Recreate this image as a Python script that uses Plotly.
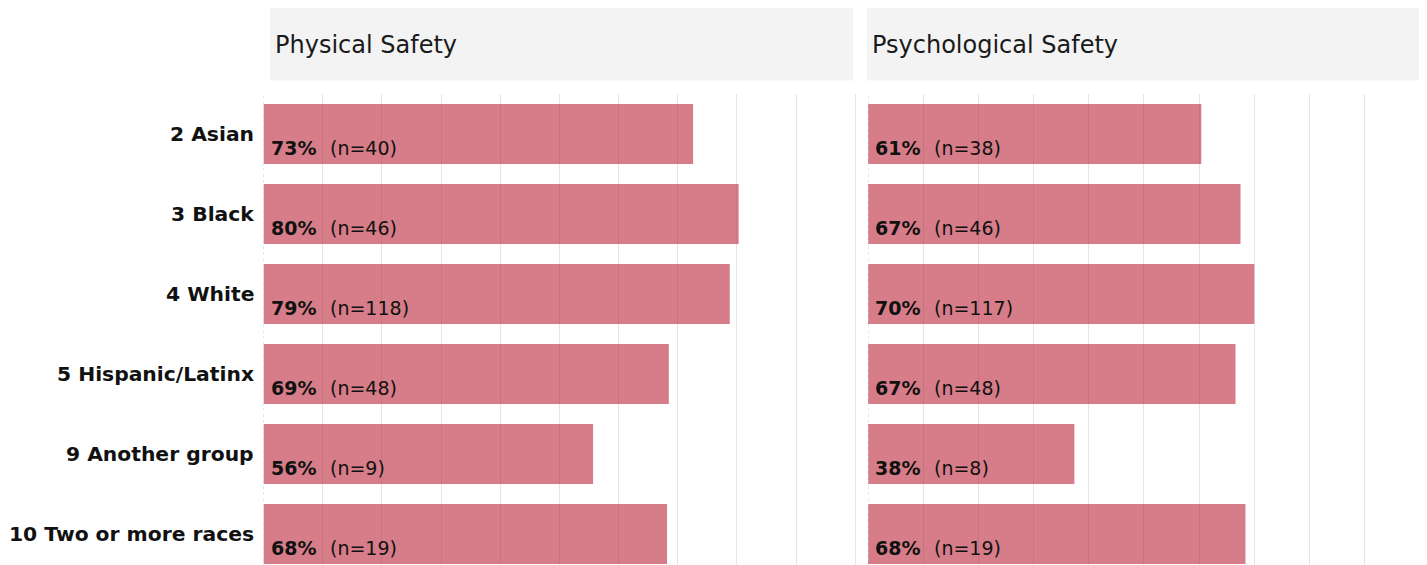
import plotly.graph_objects as go

# ---- data ----
groups = ["2 Asian", "3 Black", "4 White", "5 Hispanic/Latinx",
          "9 Another group", "10 Two or more races"]
panels = ["Physical Safety", "Psychological Safety"]
physical_vals = [0.726, 0.803, 0.788, 0.685, 0.557, 0.682]
physical_pct = ["73%", "80%", "79%", "69%", "56%", "68%"]
physical_n = ["(n=40)", "(n=46)", "(n=118)", "(n=48)", "(n=9)", "(n=19)"]
psych_vals = [0.604, 0.675, 0.700, 0.666, 0.374, 0.684]
psych_pct = ["61%", "67%", "70%", "67%", "38%", "68%"]
psych_n = ["(n=38)", "(n=46)", "(n=117)", "(n=48)", "(n=8)", "(n=19)"]
grid_vals = [0.1, 0.2, 0.3, 0.4, 0.5, 0.6, 0.7, 0.8, 0.9, 1.0]

W, H = 1427, 565
OFF = 8  # page body margin
BAR = "rgba(187,38,58,0.6)"
FONT = "DejaVu Sans"

fig = go.Figure()
fig.add_trace(go.Bar(x=physical_vals, y=groups, orientation="h", width=0.75,
                     marker=dict(color=BAR, line=dict(width=0)),
                     xaxis="x", yaxis="y", showlegend=False, hoverinfo="skip"))
fig.add_trace(go.Bar(x=psych_vals, y=groups, orientation="h", width=0.75,
                     marker=dict(color=BAR, line=dict(width=0)),
                     xaxis="x2", yaxis="y2", showlegend=False, hoverinfo="skip"))

px = lambda v: (v - OFF) / W
py = lambda v: 1 - (v - OFF) / H

ydom = [0, py(94)]
yrange = [-0.5 + (H - (94 - OFF)) / 80.0, -0.5]
xcommon = dict(range=[0, 1.003], tickmode="array", tickvals=grid_vals, showticklabels=False,
               showgrid=True, gridcolor="#e6e6e6", gridwidth=1.3, zeroline=False,
               showline=False, ticks="", fixedrange=True)
ycommon = dict(range=yrange, autorange=False, showticklabels=False, showgrid=False,
               zeroline=False, showline=False, ticks="", type="category", domain=ydom)

fig.update_layout(
    width=W, height=H,
    margin=dict(l=0, r=0, t=0, b=0),
    paper_bgcolor="white", plot_bgcolor="white",
    xaxis=dict(domain=[px(263.5), px(857)], anchor="y", **xcommon),
    xaxis2=dict(domain=[px(868), px(1421.5)], anchor="y2", **xcommon),
    yaxis=dict(anchor="x", **ycommon),
    yaxis2=dict(anchor="x2", **ycommon),
    barmode="overlay",
    font=dict(family=FONT, color="black"),
)

shapes = []
annotations = []
# header strips
for (x0, x1, title) in [(270, 853, panels[0]), (867, 1420, panels[1])]:
    shapes.append(dict(type="rect", xref="paper", yref="paper",
                       x0=px(x0), x1=px(x1), y0=py(80.5), y1=py(8),
                       fillcolor="#f3f3f3", line=dict(width=0), layer="below"))
    annotations.append(dict(xref="paper", yref="paper", x=px(x0 + 3), y=py(44.5),
                            xanchor="left", yanchor="middle", text=title, showarrow=False,
                            font=dict(family=FONT, size=24, color="#1a1a1a")))

# dashed zero lines
for xr in ["x", "x2"]:
    shapes.append(dict(type="line", xref=xr, yref="paper", x0=0, x1=0,
                       y0=0, y1=ydom[1], line=dict(color="#cfcfcf", width=1, dash="3px,3px"),
                       layer="above"))

# row labels
for g in groups:
    annotations.append(dict(xref="paper", yref="y", x=px(256), y=g, xanchor="right",
                            yanchor="middle", text="<b>%s</b>" % g, showarrow=False,
                            font=dict(family=FONT, size=20.3, color="#111111")))

# value labels
for xr, yr, pcts, ns in [("x", "y", physical_pct, physical_n), ("x2", "y2", psych_pct, psych_n)]:
    for g, p, n in zip(groups, pcts, ns):
        annotations.append(dict(xref=xr, yref=yr, x=0, y=g, xanchor="left", yanchor="middle",
                                xshift=5, yshift=-14, text="<b>%s</b>" % p, showarrow=False,
                                font=dict(family=FONT, size=19, color="#111111")))
        annotations.append(dict(xref=xr, yref=yr, x=0, y=g, xanchor="left", yanchor="middle",
                                xshift=64, yshift=-14, text=n, showarrow=False,
                                font=dict(family=FONT, size=19, color="#111111")))

fig.update_layout(shapes=shapes, annotations=annotations)
fig.write_html("out.html")
